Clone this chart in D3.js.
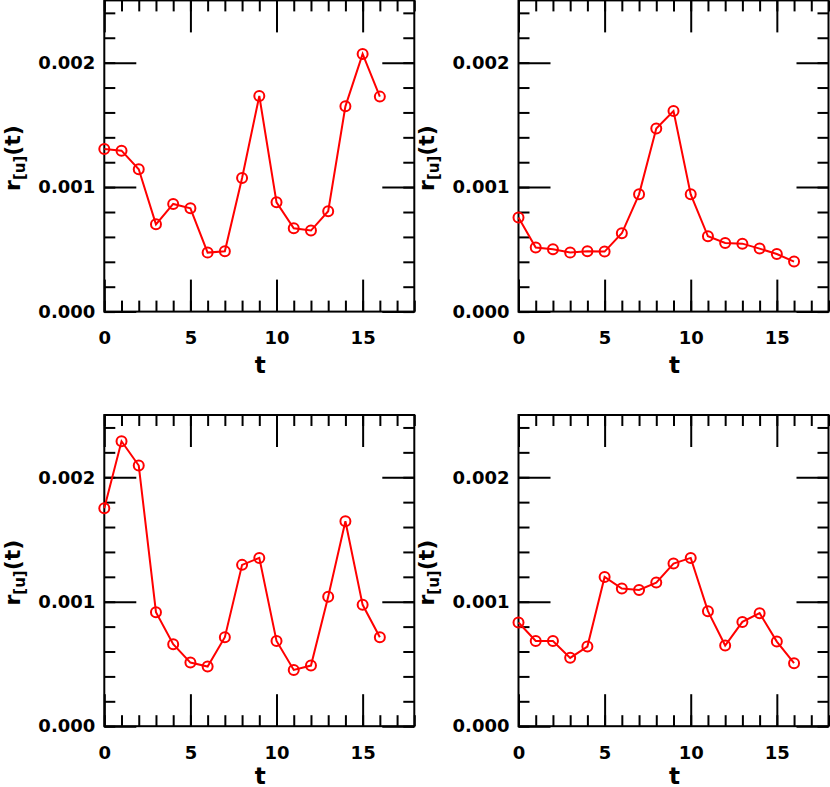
<!DOCTYPE html>
<html>
<head>
<meta charset="utf-8">
<script src="https://cdn.jsdelivr.net/npm/d3@7"></script>
<style>
  body { margin: 0; background: #fff; }
  svg { display: block; }
  .tick text { font-family: "DejaVu Sans", sans-serif; font-weight: bold; font-size: 18px; fill: #000; }
  .axis-label { font-family: "DejaVu Sans", sans-serif; font-weight: bold; fill: #000; }
</style>
</head>
<body>
<svg id="chart"></svg>
<script>
const W = 830, H = 787;

// data: time steps and r_[u](t) per panel
const tSteps = [0, 1, 2, 3, 4, 5, 6, 7, 8, 9, 10, 11, 12, 13, 14, 15, 16];
const rTopLeft = [0.001307, 0.001293, 0.001143, 0.000701, 0.000865, 0.000830, 0.000474, 0.000485,
    0.001074, 0.001732, 0.000878, 0.000669, 0.000651, 0.000806, 0.001649, 0.002070, 0.001727];
const rTopRight = [0.000755, 0.000514, 0.000501, 0.000474, 0.000485, 0.000482, 0.000629, 0.000942,
    0.001470, 0.001612, 0.000942, 0.000605, 0.000552, 0.000546, 0.000506, 0.000463, 0.000402];
const rBottomLeft = [0.001751, 0.002289, 0.002094, 0.000916, 0.000659, 0.000511, 0.000479, 0.000715,
    0.001296, 0.001352, 0.000685, 0.000452, 0.000487, 0.001039, 0.001647, 0.000975, 0.000715];
const rBottomRight = [0.000833, 0.000685, 0.000685, 0.000549, 0.000640, 0.001199, 0.001106, 0.001095,
    0.001154, 0.001307, 0.001352, 0.000924, 0.000648, 0.000838, 0.000908, 0.000680, 0.000506];

// ticks
const xMajorTicks = [0, 5, 10, 15];
const xMinorTicks = d3.range(0, 19, 1);
const yMajorTicks = [0, 0.001, 0.002];
const yMinorTicks = d3.range(0, 0.00251, 0.0002);

const panels = [
    {values: rTopLeft, x: 104.3, y: 0.4, labelX: 20, tGap: 61},
    {values: rTopRight, x: 518.5, y: 0.4, labelX: 434, tGap: 61},
    {values: rBottomLeft, x: 104.3, y: 415, labelX: 20, tGap: 58},
    {values: rBottomRight, x: 518.5, y: 415, labelX: 434, tGap: 58}
];
const pw = 310, ph = 311.2;

const svg = d3.select("#chart")
    .attr("width", W)
    .attr("height", H);

panels.forEach(p => {
    const g = svg.append("g")
        .attr("transform", `translate(${p.x},${p.y})`);

    const x = d3.scaleLinear().domain([0, 18]).range([0, pw]);
    const y = d3.scaleLinear().domain([0, 0.0025]).range([ph, 0]);

    // minor ticks
    const minor = [
        d3.axisBottom(x).tickValues(xMinorTicks).tickSize(-11).tickFormat(""),
        d3.axisTop(x).tickValues(xMinorTicks).tickSize(-11).tickFormat(""),
        d3.axisLeft(y).tickValues(yMinorTicks).tickSize(-11).tickFormat(""),
        d3.axisRight(y).tickValues(yMinorTicks).tickSize(-11).tickFormat("")
    ];
    const shifts = [`0,${ph}`, "0,0", "0,0", `${pw},0`];
    minor.forEach((ax, i) => {
        g.append("g").attr("transform", `translate(${shifts[i]})`).call(ax);
    });

    // major ticks with labels
    g.append("g")
        .attr("transform", `translate(0,${ph})`)
        .call(d3.axisBottom(x).tickValues(xMajorTicks).tickSize(-32).tickPadding(20).tickFormat(d3.format("d")));
    g.append("g")
        .call(d3.axisTop(x).tickValues(xMajorTicks).tickSize(-32).tickFormat(""));
    g.append("g")
        .call(d3.axisLeft(y).tickValues(yMajorTicks).tickSize(-32).tickPadding(9).tickFormat(d3.format(".3f")));
    g.append("g")
        .attr("transform", `translate(${pw},0)`)
        .call(d3.axisRight(y).tickValues(yMajorTicks).tickSize(-32).tickFormat(""));

    g.selectAll(".domain").remove();
    g.selectAll(".tick line").attr("stroke", "#000").attr("stroke-width", 2);

    // frame
    g.append("rect")
        .attr("width", pw)
        .attr("height", ph)
        .attr("fill", "none")
        .attr("stroke", "#000")
        .attr("stroke-width", 2);

    // series
    const pts = tSteps.map((t, i) => [t, p.values[i]]);
    g.append("path")
        .datum(pts)
        .attr("fill", "none")
        .attr("stroke", "#ff0000")
        .attr("stroke-width", 2)
        .attr("d", d3.line().x(d => x(d[0])).y(d => y(d[1])));
    g.selectAll(".pt")
        .data(pts)
        .enter()
        .append("circle")
        .attr("class", "pt")
        .attr("cx", d => x(d[0]))
        .attr("cy", d => y(d[1]))
        .attr("r", 5)
        .attr("fill", "none")
        .attr("stroke", "#ff0000")
        .attr("stroke-width", 2);

    // x label
    g.append("text")
        .attr("class", "axis-label")
        .attr("x", pw / 2 + 1)
        .attr("y", ph + p.tGap)
        .attr("text-anchor", "middle")
        .attr("font-size", "23px")
        .text("t");

    // y label
    const yl = g.append("text")
        .attr("class", "axis-label")
        .attr("transform", `translate(${p.labelX - p.x},${ph / 2 + 2}) rotate(-90)`)
        .attr("text-anchor", "middle")
        .attr("font-size", "22px");
    yl.append("tspan").text("r");
    yl.append("tspan").attr("font-size", "15px").attr("dy", 5).text("[u]");
    yl.append("tspan").attr("dy", -5).text("(t)");
});
</script>
</body>
</html>
